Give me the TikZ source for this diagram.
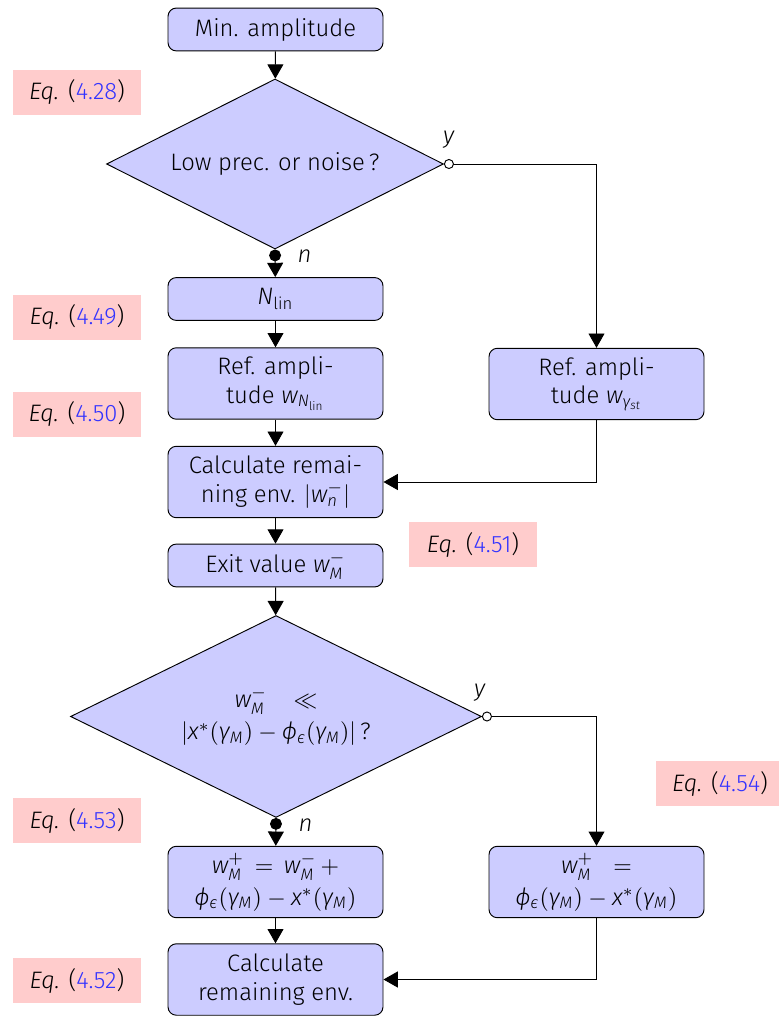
\documentclass[tikz,border=0pt]{standalone}
\usepackage{fontspec}
\IfFontExistsTF{Fira Sans Light}{\setmainfont{Fira Sans Light}}{\setmainfont{Fira Sans}}
\usetikzlibrary{shapes.geometric,arrows.meta,positioning}

% sans italic letters in math
\DeclareSymbolFont{sfit}{TU}{\rmdefault}{m}{it}
\newcommand{\sfletter}[1]{\Umathcode`#1="7 \symsfit `#1\relax}
\sfletter{w}\sfletter{N}\sfletter{M}\sfletter{n}\sfletter{x}\sfletter{y}\sfletter{s}\sfletter{t}
\Umathchardef\gammasf="7 \symsfit "03B3
\Umathchardef\phisf="7 \symsfit "03D5
\Umathchardef\epssf="7 \symsfit "03F5
\let\gamma\gammasf \let\phi\phisf \let\epsilon\epssf

\definecolor{linkblue}{rgb}{0.2,0.2,1}

\tikzset{
  block/.style={draw, rounded corners=3.5pt, fill=blue!20, align=center,
    minimum width=90.3pt, minimum height=18pt, inner sep=2pt},
  tallblock/.style={block, minimum height=30pt},
  decision/.style={draw, diamond, aspect=2, fill=blue!20, align=center, inner sep=0pt},
  eqnote/.style={fill=red!20, minimum width=53.8pt, minimum height=18.9pt},
  flow/.style={-{Triangle[width=6.7pt,length=6pt]}},
  yesbranch/.style={{Circle[open,fill=white,length=4.2pt,width=4.2pt]}-{Triangle[width=6.7pt,length=6pt]}},
  nobranch/.style={{Circle[length=5pt,width=5pt]}-{Triangle[width=6.7pt,length=6pt]}},
}

\newcommand{\eqnum}[1]{\emph{Eq.} (\textcolor{linkblue}{#1})}

\begin{document}
\begin{tikzpicture}[x=0.42pt,y=-0.42pt]
\useasboundingbox (0,0) rectangle (778,1016);

\node[block] (minamp) at (275.5,29.5) {Min. amplitude};
\node[decision, minimum width=141.5pt, minimum height=71.4pt] (lowprec) at (275,164) {Low prec. or noise\,?};
\node[block] (nlin) at (275.5,299) {$N_{\mathrm{lin}}$};
\node[tallblock] (reflin) at (275.5,383.5) {Ref. ampli-\\tude $w_{N_{\mathrm{lin}}}$};
\node[tallblock] (refst) at (596.5,384) {Ref. ampli-\\tude $w_{\gamma_{st}}$};
\node[tallblock] (calcenv) at (275.5,482) {Calculate remai-\\ning env. $|w_n^-|$};
\node[block] (exitval) at (275.5,565.5) {Exit value $w_M^-$};
\node[decision, minimum width=172.6pt, minimum height=84.8pt] (small) at (276,716.5)
  {$w_M^-\;\;\;\ll$\\[1.5pt]$|x^*(\gamma_M)-\phi_\epsilon(\gamma_M)|$\,?};
\node[tallblock] (wplusl) at (275.5,882) {$w_M^+\,=\,w_M^-\,+$\\[1.5pt]$\phi_\epsilon(\gamma_M)-x^*(\gamma_M)$};
\node[tallblock] (wplusr) at (596.5,882) {$w_M^+\;\;=$\\[1.5pt]$\phi_\epsilon(\gamma_M)-x^*(\gamma_M)$};
\node[tallblock] (calcrem) at (275.5,979.5) {Calculate\\remaining env.};

% equation references
\node[eqnote] (eq28) at (77,92.5) {\eqnum{4.28}};
\node[eqnote] (eq49) at (77,317.5) {\eqnum{4.49}};
\node[eqnote] (eq50) at (77,414.5) {\eqnum{4.50}};
\node[eqnote] (eq51) at (473,544.5) {\eqnum{4.51}};
\node[eqnote] (eq53) at (77,820.5) {\eqnum{4.53}};
\node[eqnote] (eq54) at (720,783.5) {\eqnum{4.54}};
\node[eqnote] (eq52) at (77,980.5) {\eqnum{4.52}};

\draw[flow] (minamp)--(lowprec);
\draw[yesbranch] (lowprec.east) node[anchor=south, xshift=2pt, yshift=3pt] {$y$} -| (refst);
\draw[nobranch] (lowprec.south) node[anchor=west, xshift=6pt, yshift=-3pt] {$n$} -- (nlin);
\draw[flow] (nlin)--(reflin);
\draw[flow] (reflin)--(calcenv);
\draw[flow] (refst) |- (calcenv);
\draw[flow] (calcenv)--(exitval);
\draw[flow] (exitval)--(small);
\draw[yesbranch] (small.east) node[anchor=south, xshift=-1pt, yshift=3pt] {$y$} -| (wplusr);
\draw[nobranch] (small.south) node[anchor=west, xshift=6pt, yshift=-3pt] {$n$} -- (wplusl);
\draw[flow] (wplusl)--(calcrem);
\draw[flow] (wplusr) |- (calcrem);
\end{tikzpicture}
\end{document}
